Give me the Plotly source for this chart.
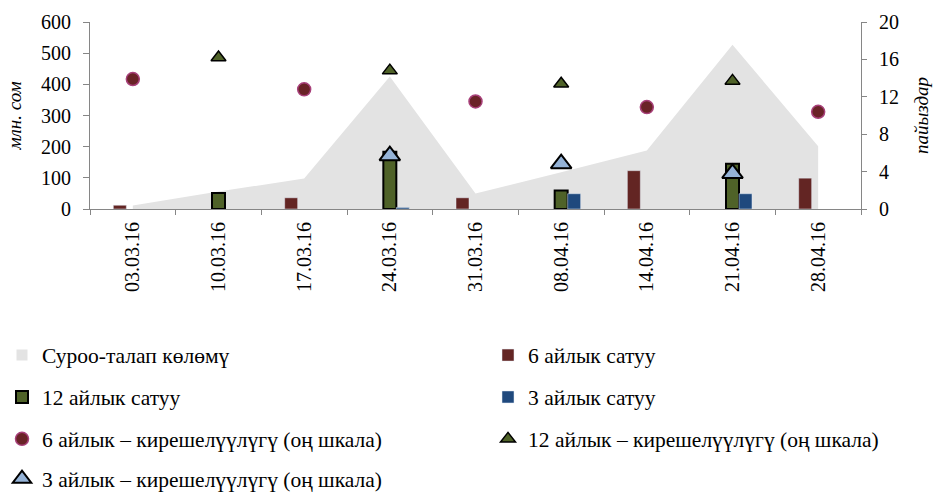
import plotly.graph_objects as go

dates = ["03.03.16", "10.03.16", "17.03.16", "24.03.16", "31.03.16",
         "08.04.16", "14.04.16", "21.04.16", "28.04.16"]
demand = [11, 56, 98, 425, 50, 118, 188, 527, 201]
sale6 = [12, None, 36, None, 36, None, 123, None, 99]
sale12 = [None, 51, None, 184, None, 59, None, 145, None]
sale3 = [None, None, None, 5, None, 49, None, 49, None]
yield6 = [13.9, None, 12.8, None, 11.5, None, 10.9, None, 10.4]
yield12 = [None, 16.2, None, 14.8, None, 13.4, None, 13.7, None]
yield3 = [None, None, None, 5.7, None, 4.85, None, 3.8, None]

names = ["Суроо-талап көлөмү", "6 айлык сатуу", "12 айлык сатуу", "3 айлык сатуу",
         "6 айлык – кирешелүүлүгү (оң шкала)", "12 айлык – кирешелүүлүгү (оң шкала)",
         "3 айлык – кирешелүүлүгү (оң шкала)"]

FONT = "Liberation Serif"
AREA_COLOR = "#e3e3e3"

fig = go.Figure()
fig.add_trace(go.Scatter(x=dates, y=demand, name=names[0], mode="none", fill="tozeroy",
                         fillcolor=AREA_COLOR, yaxis="y", showlegend=False))
# legend entry for the area series (square swatch like the original)
fig.add_trace(go.Scatter(x=[None], y=[None], name=names[0], mode="markers",
                         marker=dict(symbol="square", size=11, color=AREA_COLOR),
                         yaxis="y", legend="legend"))
fig.add_trace(go.Bar(x=dates, y=sale6, name=names[1], marker=dict(color="#632523"),
                     yaxis="y2", legend="legend2"))
fig.add_trace(go.Bar(x=dates, y=sale12, name=names[2],
                     marker=dict(color="#4f6228", line=dict(color="black", width=2)),
                     yaxis="y2", legend="legend3"))
fig.add_trace(go.Bar(x=dates, y=sale3, name=names[3], marker=dict(color="#1f497d"),
                     yaxis="y2", legend="legend4"))
fig.add_trace(go.Scatter(x=dates, y=yield6, name=names[4], mode="markers",
                         marker=dict(symbol="circle", size=13, color="#6a2327",
                                     line=dict(color="#a8407a", width=1.5)),
                         yaxis="y3", legend="legend5"))
fig.add_trace(go.Scatter(x=dates, y=yield12, name=names[5], mode="markers",
                         marker=dict(symbol="triangle-up", size=13, color="#4f6228",
                                     line=dict(color="black", width=1.5)),
                         yaxis="y3", legend="legend6"))
fig.add_trace(go.Scatter(x=dates, y=yield3, name=names[6], mode="markers",
                         marker=dict(symbol="triangle-up", size=18, color="#95b3d7",
                                     line=dict(color="black", width=2)),
                         yaxis="y3", legend="legend7"))

L, R, T, B = 90, 73, 22, 282.5
W, H = 934, 492
pw, ph = W - L - R, H - T - B


def px_x(px):
    return (px - L) / pw


def px_y(py):
    return 1 - (py - T) / ph


col_x = [px_x(2), px_x(488)]
row_y = [px_y(356), px_y(398), px_y(440), px_y(480)]
positions = [(0, 0), (1, 0), (0, 1), (1, 1), (0, 2), (1, 2), (0, 3)]
legend_layout = {}
for i, (c, r) in enumerate(positions):
    key = "legend" if i == 0 else f"legend{i + 1}"
    legend_layout[key] = dict(x=col_x[c], y=row_y[r], xanchor="left", yanchor="middle",
                              bgcolor="rgba(0,0,0,0)", font=dict(family=FONT, size=21.5, color="black"),
                              itemwidth=30)

axis_line = "#868686"
fig.update_layout(
    width=W, height=H,
    margin=dict(l=L, r=R, t=T, b=B, autoexpand=False),
    paper_bgcolor="white", plot_bgcolor="white",
    barmode="group", bargap=0.545, bargroupgap=0,
    font=dict(family=FONT, size=20, color="black"),
    showlegend=True,
    xaxis=dict(type="category", showline=True, linecolor=axis_line, linewidth=1,
               ticks="outside", ticklen=5, tickcolor=axis_line, tickson="boundaries",
               tickangle=-90, tickfont=dict(family=FONT, size=20, color="black"),
               ticklabelstandoff=4,
               showgrid=False, zeroline=False, range=[-0.5, 8.5]),
    yaxis=dict(range=[0, 600], dtick=100, showline=True, linecolor=axis_line, linewidth=1,
               ticks="outside", ticklen=6, tickcolor=axis_line, showgrid=False, zeroline=False,
               tickfont=dict(family=FONT, size=20, color="black"), ticklabelstandoff=8,
               title=dict(text="<i>млн. сом</i>", font=dict(family=FONT, size=19, color="black"),
                          standoff=14)),
    yaxis2=dict(range=[0, 600], overlaying="y", visible=False, showgrid=False, zeroline=False),
    yaxis3=dict(range=[0, 20], dtick=4, overlaying="y", side="right", showline=True,
                linecolor=axis_line, linewidth=1, ticks="outside", ticklen=5, tickcolor=axis_line,
                showgrid=False, zeroline=False, ticklabelstandoff=8,
                tickfont=dict(family=FONT, size=20, color="black"),
                title=dict(text="<i>пайыздар</i>", font=dict(family=FONT, size=19, color="black"),
                           standoff=16)),
    **legend_layout,
)

fig.write_html("out.html", config={"displayModeBar": False},
               post_script="document.body.style.margin='0';")
